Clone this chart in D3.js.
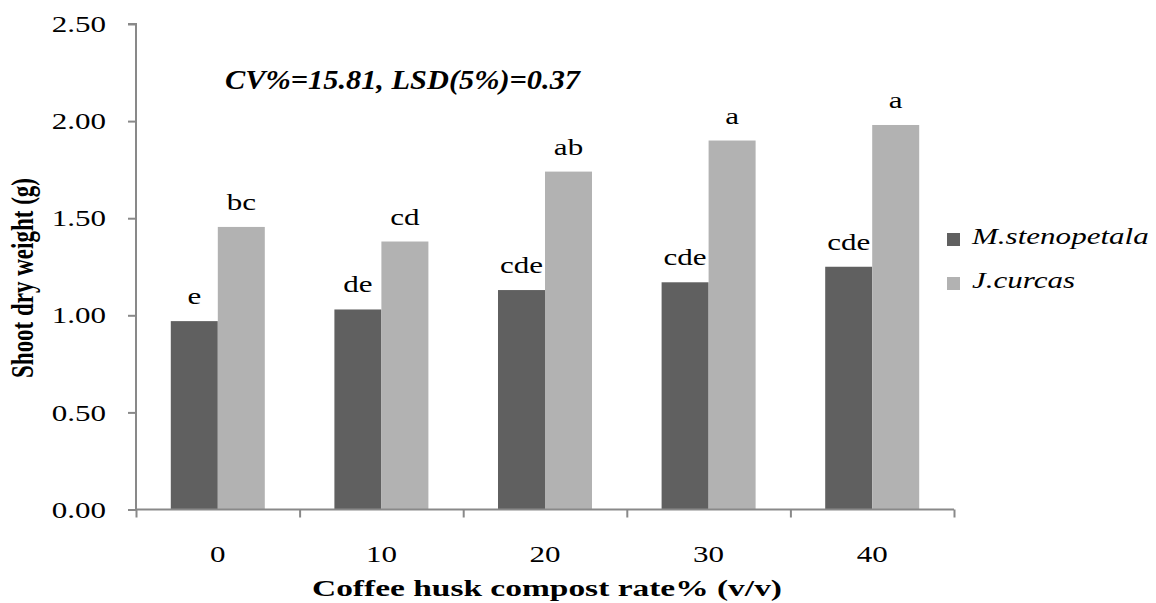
<!DOCTYPE html>
<html>
<head>
<meta charset="utf-8">
<script src="https://cdn.jsdelivr.net/npm/d3@7"></script>
<style>
  body { margin: 0; background: #fff; }
</style>
</head>
<body>
<div id="canvas"></div>
<script>
// ---- DATA ----
var rates = ['0', '10', '20', '30', '40'];
var series = ['M.stenopetala', 'J.curcas'];
var stenopetala = [0.97, 1.03, 1.13, 1.17, 1.25];
var curcas = [1.455, 1.38, 1.74, 1.90, 1.98];
var stenoLetters = ['e', 'de', 'cde', 'cde', 'cde'];
var curcasLetters = ['bc', 'cd', 'ab', 'a', 'a'];
var yTicks = [0, 0.5, 1.0, 1.5, 2.0, 2.5];
var colors = ['#606060', '#b2b2b2'];

var W = 1156, H = 603;
var sx = 1.35; // horizontal stretch of the text in the original picture
var FONT = "'Liberation Serif', 'Times New Roman', Times, 'DejaVu Serif', serif";

var rows = rates.map(function(r, i) {
  return { rate: r, values: [stenopetala[i], curcas[i]], letters: [stenoLetters[i], curcasLetters[i]] };
});

var svg = d3.select('#canvas').append('svg')
  .attr('width', W).attr('height', H)
  .attr('font-family', FONT);

// ---- SCALES ----
var x0 = d3.scaleBand().domain(rates).range([136, 954])
  .paddingInner(0.4254).paddingOuter(0.2127);
var x1 = d3.scaleBand().domain(series).range([0, x0.bandwidth()]);
var y = d3.scaleLinear().domain([0, 2.5]).range([509.5, 24]);
var xEdge = d3.scaleLinear().domain([0, rates.length]).range([136, 954]);

// ---- BARS ----
var groups = svg.selectAll('g.grp').data(rows).enter().append('g')
  .attr('class', 'grp')
  .attr('transform', function(d) { return 'translate(' + x0(d.rate) + ',0)'; });

groups.selectAll('rect').data(function(d) {
    return d.values.map(function(v, j) { return { s: series[j], v: v, j: j }; });
  }).enter().append('rect')
  .attr('x', function(d) { return x1(d.s); })
  .attr('y', function(d) { return y(d.v); })
  .attr('width', x1.bandwidth())
  .attr('height', function(d) { return y(0) - y(d.v); })
  .attr('fill', function(d) { return colors[d.j]; });

groups.selectAll('text.lett').data(function(d) {
    return d.values.map(function(v, j) { return { s: series[j], v: v, t: d.letters[j] }; });
  }).enter().append('text')
  .attr('class', 'lett')
  .attr('transform', function(d) {
    return 'translate(' + (x1(d.s) + x1.bandwidth() / 2) + ',' + (y(d.v) - 17) + ') scale(' + sx + ',1)';
  })
  .attr('text-anchor', 'middle')
  .style('font-family', FONT)
  .style('font-size', '23px')
  .text(function(d) { return d.t; });

// ---- AXES ----
var axisColor = '#898989';

var gy = svg.append('g').attr('transform', 'translate(136,0)')
  .call(d3.axisLeft(y).tickValues(yTicks).tickFormat(d3.format('.2f')).tickSize(8).tickPadding(0));
gy.attr('font-family', FONT);
gy.select('.domain').attr('stroke', axisColor).attr('stroke-width', 2).attr('d', 'M-8,24H0V509.5');
gy.selectAll('.tick line').attr('stroke', axisColor).attr('stroke-width', 2);
gy.selectAll('.tick text')
  .attr('x', 0).attr('dy', '0.33em')
  .attr('transform', 'translate(-30,0) scale(' + sx + ',1)')
  .style('font-size', '23px').style('font-family', FONT)
  .attr('fill', '#000');

var gEdge = svg.append('g').attr('transform', 'translate(0,' + y(0) + ')')
  .call(d3.axisBottom(xEdge).ticks(rates.length).tickFormat('').tickSize(8));
gEdge.select('.domain').attr('stroke', axisColor).attr('stroke-width', 2).attr('d', 'M136,0H954');
gEdge.selectAll('.tick line').attr('stroke', axisColor).attr('stroke-width', 2);

var gx = svg.append('g').attr('transform', 'translate(0,' + y(0) + ')')
  .call(d3.axisBottom(x0).tickSize(0).tickPadding(0));
gx.attr('font-family', FONT);
gx.select('.domain').remove();
gx.selectAll('.tick text')
  .attr('y', 0).attr('dy', 0)
  .attr('transform', 'translate(0,52.5) scale(' + sx + ',1)')
  .style('font-size', '23px').style('font-family', FONT)
  .attr('fill', '#000');

// ---- TITLES ----
svg.append('text')
  .attr('x', 225).attr('y', 89)
  .attr('textLength', 355).attr('lengthAdjust', 'spacingAndGlyphs')
  .style('font-family', FONT)
  .style('font-size', '28px').style('font-weight', 'bold').style('font-style', 'italic')
  .text('CV%=15.81, LSD(5%)=0.37');

svg.append('text')
  .attr('x', 312).attr('y', 596)
  .attr('textLength', 470).attr('lengthAdjust', 'spacingAndGlyphs')
  .style('font-family', FONT)
  .style('font-size', '24px').style('font-weight', 'bold')
  .text('Coffee husk compost rate% (v/v)');

svg.append('text')
  .attr('transform', 'translate(33,278) scale(' + sx + ',1) rotate(-90)')
  .attr('text-anchor', 'middle')
  .style('font-family', FONT)
  .style('font-size', '23px').style('font-weight', 'bold')
  .text('Shoot dry weight (g)');

// ---- LEGEND ----
var legend = svg.selectAll('g.leg').data(series).enter().append('g')
  .attr('class', 'leg')
  .attr('transform', function(d, i) { return 'translate(947,' + (244 + i * 44) + ')'; });
legend.append('rect')
  .attr('x', 0).attr('y', -11).attr('width', 13).attr('height', 13)
  .attr('fill', function(d, i) { return colors[i]; });
legend.append('text')
  .attr('transform', 'translate(25,0) scale(' + sx + ',1)')
  .style('font-family', FONT)
  .style('font-size', '23px').style('font-style', 'italic')
  .text(function(d) { return d; });
</script>
</body>
</html>
